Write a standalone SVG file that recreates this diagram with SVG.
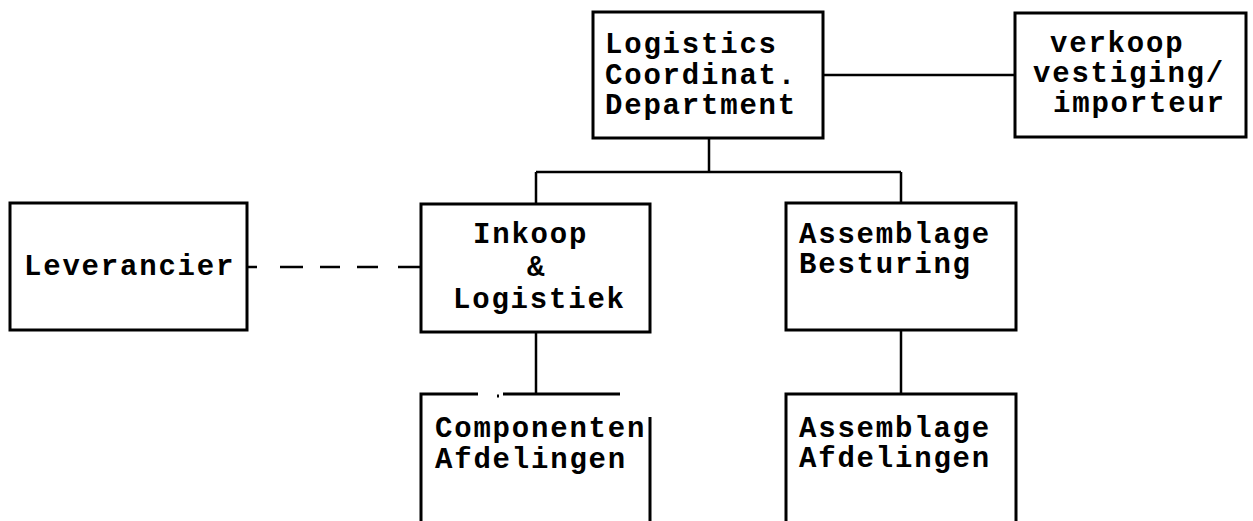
<svg xmlns="http://www.w3.org/2000/svg" width="1253" height="521" viewBox="0 0 1253 521">
  <style>
    .box { fill: none; stroke: #000; stroke-width: 3; }
    .wire { fill: none; stroke: #000; stroke-width: 2.5; }
    .lbl { font-family: "Liberation Mono", "Courier New", monospace; font-weight: bold; font-size: 29px; letter-spacing: 1.8px; fill: #000; }
  </style>
  <rect width="1253" height="521" fill="#fff"/>

  <!-- connectors -->
  <g id="connectors">
    <path class="wire" d="M823 75 H1015"/>
    <path class="wire" d="M709 138 V172 M536 172 H901 M536 172 V204 M901 172 V203"/>
    <path class="wire" d="M536 332 V394"/>
    <path class="wire" d="M901 330 V394"/>
    <path class="wire" d="M247 267 H257 M280 267 H303 M320 267 H340 M357 267 H378 M398 267 H421"/>
  </g>

  <g id="logistics">
    <rect class="box" x="593" y="12" width="230" height="126"/>
    <text class="lbl" x="605" y="53">Logistics</text>
    <text class="lbl" x="605" y="84">Coordinat.</text>
    <text class="lbl" x="605" y="114">Department</text>
  </g>

  <g id="verkoop">
    <rect class="box" x="1015" y="13" width="231" height="124"/>
    <text class="lbl" x="1050" y="52">verkoop</text>
    <text class="lbl" x="1033" y="82">vestiging/</text>
    <text class="lbl" x="1053" y="112">importeur</text>
  </g>

  <g id="leverancier">
    <rect class="box" x="10" y="203" width="237" height="127"/>
    <text class="lbl" x="24" y="275">Leverancier</text>
  </g>

  <g id="inkoop">
    <rect class="box" x="421" y="204" width="229" height="128"/>
    <text class="lbl" x="473" y="243">Inkoop</text>
    <text class="lbl" x="527" y="276">&amp;</text>
    <text class="lbl" x="453" y="308">Logistiek</text>
  </g>

  <g id="assemblage-besturing">
    <rect class="box" x="786" y="203" width="230" height="127"/>
    <text class="lbl" x="799" y="243">Assemblage</text>
    <text class="lbl" x="799" y="273">Besturing</text>
  </g>

  <g id="componenten">
    <path class="box" d="M421 521 V394 H478 M497 396 H499 M503 394 H620 M650 417 V521"/>
    <text class="lbl" x="435" y="437">Componenten</text>
    <text class="lbl" x="435" y="468">Afdelingen</text>
  </g>

  <g id="assemblage-afdelingen">
    <path class="box" d="M786 521 V394 H1016 V521"/>
    <text class="lbl" x="799" y="437">Assemblage</text>
    <text class="lbl" x="799" y="467">Afdelingen</text>
  </g>
</svg>
